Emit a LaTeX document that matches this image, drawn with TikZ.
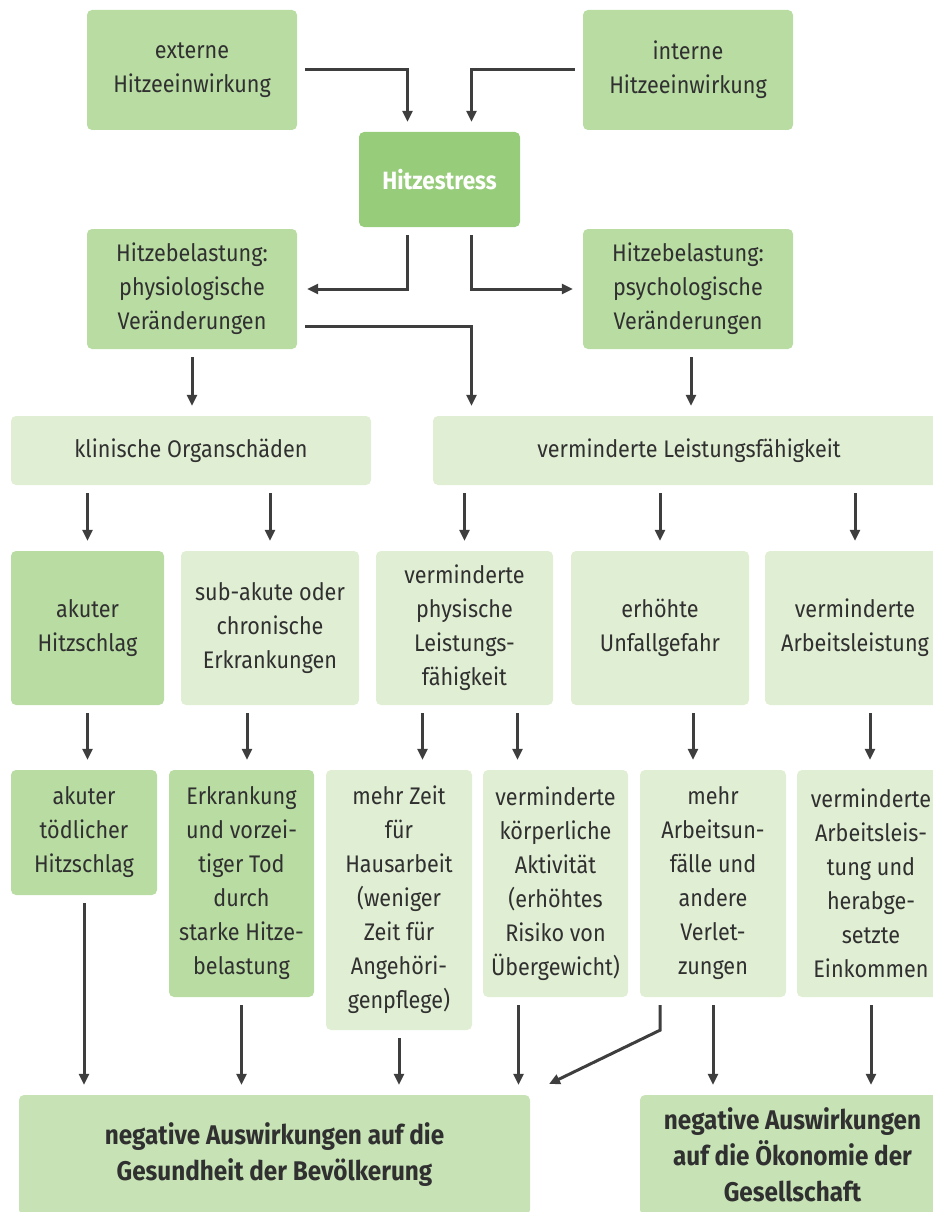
\documentclass[tikz,border=0pt]{standalone}
\usepackage{fontspec}
\setmainfont{Fira Sans}[FakeStretch=0.9]
\usepackage{tikz}
\usetikzlibrary{
  arrows.meta,
  calc,
  positioning
}
\definecolor{stressgreen}{RGB}{151,204,123}
\definecolor{midgreen}{RGB}{184,220,162}
\definecolor{basegreen}{RGB}{199,227,182}
\definecolor{palegreen}{RGB}{224,238,211}
\definecolor{inkgray}{RGB}{48,48,48}
\definecolor{arrowgray}{RGB}{62,62,62}
\tikzset{
  cell/.style={rounded corners=5pt,align=center,inner sep=0pt,
    text=inkgray,font=\fontsize{24}{34}\selectfont},
  midcell/.style={cell,fill=midgreen},
  palecell/.style={cell,fill=palegreen},
  stresscell/.style={cell,fill=stressgreen,text=white,
    font=\fontsize{25}{34}\selectfont\bfseries},
  basecell/.style={cell,fill=basegreen,
    font=\fontsize{27}{36}\selectfont\bfseries},
  flow/.style={-{Triangle[length=11pt,width=10pt]},line width=3pt,
    draw=arrowgray,shorten <=8pt,shorten >=10pt}
}

\begin{document}
\begin{tikzpicture}[x=1pt,y=-1pt]
  \useasboundingbox (0,0) rectangle (933,1212);
  % sources and stress
  \node[midcell,minimum width=210pt,minimum height=120pt] (extern) at (192,70)
    {externe\\Hitzeeinwirkung};
  \node[midcell,minimum width=210pt,minimum height=120pt] (intern) at (688,70)
    {interne\\Hitzeeinwirkung};
  \node[stresscell,minimum width=161pt,minimum height=95pt] (stress) at (439.5,179.5)
    {Hitzestress};
  \node[midcell,minimum width=210pt,minimum height=120pt] (physio) at (192,289)
    {Hitzebelastung:\\physiologische\\Veränderungen};
  \node[midcell,minimum width=210pt,minimum height=120pt] (psycho) at (688,289)
    {Hitzebelastung:\\psychologische\\Veränderungen};
  % consequences
  \node[palecell,minimum width=360pt,minimum height=69pt] (organ) at (191,450.5)
    {klinische Organschäden};
  \node[palecell,minimum width=512pt,minimum height=69pt] (leistung) at (689,450.5)
    {verminderte Leistungsfähigkeit};
  \node[midcell,minimum width=153pt,minimum height=154pt] (akut) at (87.5,628)
    {akuter\\Hitzschlag};
  \node[palecell,minimum width=178pt,minimum height=154pt] (subakut) at (270,628)
    {sub-akute oder\\chronische\\Erkrankungen};
  \node[palecell,minimum width=177pt,minimum height=154pt] (physleist) at (464.5,628)
    {verminderte\\physische\\Leistungs-\\fähigkeit};
  \node[palecell,minimum width=178pt,minimum height=154pt] (unfall) at (660,628)
    {erhöhte\\Unfallgefahr};
  \node[palecell,minimum width=180pt,minimum height=154pt] (arbeit) at (855,628)
    {verminderte\\Arbeitsleistung};
  % outcomes
  \node[midcell,minimum width=146pt,minimum height=125pt] (toedlich) at (84,832.5)
    {akuter\\tödlicher\\Hitzschlag};
  \node[midcell,minimum width=145pt,minimum height=227pt] (tod) at (241.5,883.5)
    {Erkrankung\\und vorzei-\\tiger Tod\\durch\\starke Hitze-\\belastung};
  \node[palecell,minimum width=146pt,minimum height=260pt] (haus) at (399,900)
    {mehr Zeit\\für\\Hausarbeit\\(weniger\\Zeit für\\Angehöri-\\genpflege)};
  \node[palecell,minimum width=145pt,minimum height=227pt] (aktiv) at (555.5,883.5)
    {verminderte\\körperliche\\Aktivität\\(erhöhtes\\Risiko von\\Übergewicht)};
  \node[palecell,minimum width=146pt,minimum height=227pt] (verletz) at (713,883.5)
    {mehr\\Arbeitsun-\\fälle und\\andere\\Verlet-\\zungen};
  \node[palecell,minimum width=148pt,minimum height=227pt] (einkommen) at (871,883.5)
    {verminderte\\Arbeitsleis-\\tung und\\herabge-\\setzte\\Einkommen};
  \node[basecell,minimum width=511pt,minimum height=120pt] (gesundheit) at (274.5,1155)
    {negative Auswirkungen auf die\\Gesundheit der Bevölkerung};
  \node[basecell,minimum width=305pt,minimum height=120pt] (oekonomie) at (792.5,1155)
    {negative Auswirkungen\\auf die Ökonomie der\\Gesellschaft};
  \coordinate (diagend) at (549,1084);

  \draw[flow] (extern.east) -| ([xshift=-32pt]stress.north);
  \draw[flow] (intern.west) -| ([xshift=32pt]stress.north);
  \draw[flow] ([xshift=-32pt]stress.south) |- (physio.east);
  \draw[flow] ([xshift=32pt]stress.south) |- (psycho.west);
  \draw[flow] ([yshift=-37pt]physio.east) -| ([xshift=32pt]stress.south |- leistung.north);
  \draw[flow] (physio.south) -- (physio.south |- organ.north);
  \draw[flow] ([xshift=3pt]psycho.south) -- ([xshift=3pt]psycho.south |- leistung.north);

  \draw[flow] (akut.north |- organ.south) -- (akut.north);
  \draw[flow] (subakut.north |- organ.south) -- (subakut.north);
  \draw[flow] (physleist.north |- leistung.south) -- (physleist.north);
  \draw[flow] (unfall.north |- leistung.south) -- (unfall.north);
  \draw[flow] (arbeit.north |- leistung.south) -- (arbeit.north);

  \draw[flow] (akut.south) -- (akut.south |- toedlich.north);
  \draw[flow] ([xshift=-23pt]subakut.south) -- ([xshift=-23pt]subakut.south |- tod.north);
  \draw[flow] ([xshift=-42pt]physleist.south) -- ([xshift=-42pt]physleist.south |- haus.north);
  \draw[flow] ([xshift=53pt]physleist.south) -- ([xshift=53pt]physleist.south |- aktiv.north);
  \draw[flow] ([xshift=33pt]unfall.south) -- ([xshift=33pt]unfall.south |- verletz.north);
  \draw[flow] ([xshift=15pt]arbeit.south) -- ([xshift=15pt]arbeit.south |- einkommen.north);

  \draw[flow] (toedlich.south) -- (toedlich.south |- gesundheit.north);
  \draw[flow] (tod.south) -- (tod.south |- gesundheit.north);
  \draw[flow] (haus.south) -- (haus.south |- gesundheit.north);
  \draw[flow] ([xshift=-37pt]aktiv.south) -- ([xshift=-37pt]aktiv.south |- gesundheit.north);
  \draw[flow,shorten >=0pt] ([xshift=-53pt]verletz.south) -- ++(0,33) -- (diagend);
  \draw[flow] (verletz.south) -- (verletz.south |- oekonomie.north);
  \draw[flow] (einkommen.south) -- (einkommen.south |- oekonomie.north);
\end{tikzpicture}
\end{document}
